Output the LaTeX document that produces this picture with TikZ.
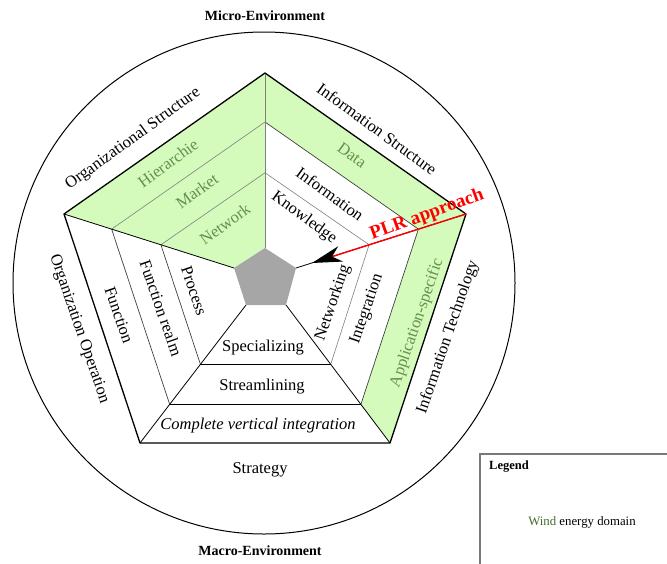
\documentclass[tikz,border=0pt]{standalone}
\usepackage{fontspec}
\setmainfont{Liberation Serif}
\usetikzlibrary{calc,arrows.meta}
\definecolor{lgreen}{RGB}{212,250,188}
\definecolor{tgreen}{RGB}{100,145,75}
\definecolor{wgreen}{RGB}{70,105,45}
\definecolor{lgray}{RGB}{166,166,166}
\definecolor{boxgray}{RGB}{120,120,120}
\begin{document}
\begin{tikzpicture}[x=1pt,y=-1pt,
  lbl/.style={font=\fontsize{16.5}{18}\selectfont, inner sep=0pt},
  glbl/.style={lbl, text=tgreen},
  envlbl/.style={font=\bfseries\fontsize{14}{16}\selectfont, inner sep=0pt},
  thinband/.style={draw=gray, line width=0.6pt},
  darkband/.style={draw=black!75, line width=0.7pt},
  blackband/.style={draw=black, line width=0.9pt},
  radial/.style={draw=black, line width=0.8pt},
  outeredge/.style={draw=black, line width=1.3pt, line join=round}]
\useasboundingbox (0,0) rectangle (667,563);

% outer circle
\draw[line width=1pt] (264,283) circle[radius=251pt];

% vertices
\coordinate (T) at (265,73);
\coordinate (L) at (64,214);
\coordinate (R) at (466,214);
\coordinate (BL) at (140,443);
\coordinate (BR) at (390,443);
\coordinate (Ti) at (265,248);
\coordinate (Li) at (234,268);
\coordinate (Ri) at (296,268);
\coordinate (BLi) at (246,305);
\coordinate (BRi) at (286,305);
\foreach \v in {T,L,R,BL,BR}{
  \coordinate (\v1) at ($(\v)!0.28!(\v i)$);
  \coordinate (\v2) at ($(\v)!0.57!(\v i)$);
}

% green fills
\fill[lgreen] (T) -- (L) -- (Li) -- (Ti) -- cycle;
\fill[lgreen] (T) -- (R) -- (R1) -- (T1) -- cycle;
\fill[lgreen] (R) -- (BR) -- (BR1) -- (R1) -- cycle;

% central pentagon
\fill[lgray] (Ti) -- (Ri) -- (BRi) -- (BLi) -- (Li) -- cycle;

% band lines
\draw[thinband] (T1) -- (L1);
\draw[thinband] (T2) -- (L2);
\draw[darkband] (T1) -- (R1);
\draw[thinband] (T2) -- (R2);
\draw[darkband] (R1) -- (BR1);
\draw[thinband] (R2) -- (BR2);
\draw[blackband] (BL1) -- (BR1);
\draw[blackband] (BL2) -- (BR2);
\draw[darkband] (L1) -- (BL1);
\draw[darkband] (L2) -- (BL2);

% radial lines
\draw[thinband] (T) -- (Ti);
\draw[radial] (L) -- (Li);
\draw[radial] (R) -- (Ri);
\draw[radial] (BL) -- (BLi);
\draw[radial] (BR) -- (BRi);

% outer pentagon
\draw[outeredge] (T) -- (R) -- (BR) -- (BL) -- (L) -- cycle;

% PLR arrow
\coordinate (ArrTip) at (312,263);
\draw[red, line width=1.4pt, -{Stealth[length=30pt,width=16pt,inset=9pt,black]}] (R) -- (ArrTip);
\node[font=\bfseries\fontsize{19}{20}\selectfont, text=red, rotate=20, inner sep=0pt] (plr) at (427,215) {PLR approach};

% environment labels
\node[envlbl] (micro) at (265,16) {Micro-Environment};
\node[envlbl] (macro) at (260,551) {Macro-Environment};

% sector labels
\node[lbl, rotate=36] (orgstruct) at (133,139) {Organizational Structure};
\node[lbl, rotate=-36] (infostruct) at (377,129) {Information Structure};
\node[lbl, rotate=71] (infotech) at (448,337) {Information Technology};
\node[lbl, rotate=-71] (orgop) at (79,329) {Organization Operation};
\node[lbl] (strategy) at (260,470) {Strategy};

% band labels
\node[glbl, rotate=36] (hier) at (168,163) {Hierarchie};
\node[glbl, rotate=36] (market) at (197,191) {Market};
\node[glbl, rotate=36] (network) at (225,224) {Network};
\node[glbl, rotate=-36] (data) at (352,155) {Data};
\node[lbl, rotate=-36] (info) at (330,194) {Information};
\node[lbl, rotate=-36] (know) at (304,218) {Knowledge};
\node[glbl, rotate=71] (appspec) at (417,323) {Application-specific};
\node[lbl, rotate=71] (integ) at (367,309) {Integration};
\node[lbl, rotate=71] (netw) at (333,303) {Networking};
\node[lbl] (spec) at (263,348) {Specializing};
\node[lbl] (stream) at (262,387) {Streamlining};
\node[lbl, font=\itshape\fontsize{16.5}{18}\selectfont] (cvi) at (258,426) {Complete vertical integration};
\node[lbl, rotate=-71] (func) at (119,315) {Function};
\node[lbl, rotate=-71] (funcrealm) at (161,308) {Function realm};
\node[lbl, rotate=-71] (proc) at (194,291) {Process};

% legend
\draw[boxgray, line width=1.5pt] (480,575) -- (480,454) -- (672,454);
\node[font=\bfseries\fontsize{12.5}{14}\selectfont, inner sep=0pt] (legend) at (509,467) {Legend};
\node[font=\fontsize{12.8}{14}\selectfont, inner sep=0pt] (wind) at (582,522) {\textcolor{wgreen}{Wind} energy domain};
\end{tikzpicture}
\end{document}
